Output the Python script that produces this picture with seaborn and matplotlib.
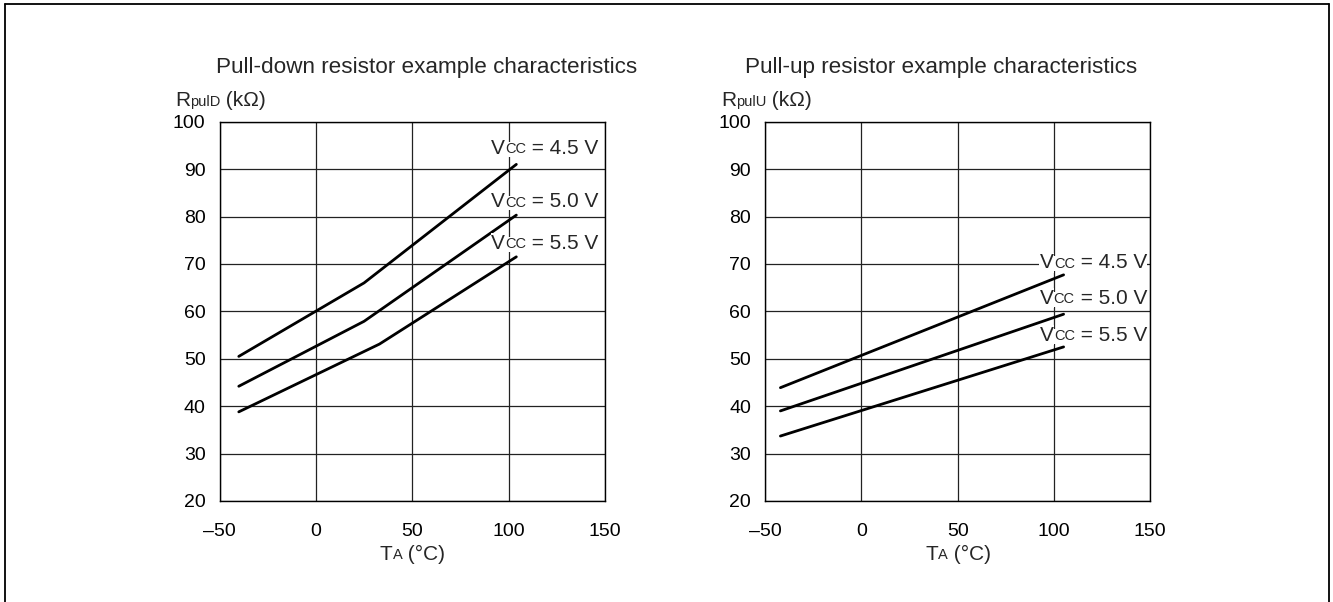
import matplotlib
matplotlib.use("Agg")
import matplotlib.pyplot as plt
import seaborn as sns
import pandas as pd
from matplotlib.lines import Line2D

# ---- data ----
x_ticks = [-50, 0, 50, 100, 150]
y_ticks = [20, 30, 40, 50, 60, 70, 80, 90, 100]

pd_t_45 = [-40, 25, 104]
pd_r_45 = [50.5, 66.0, 91.0]
pd_t_50 = [-40, 25, 104]
pd_r_50 = [44.2, 57.9, 80.3]
pd_t_55 = [-40, 33, 104]
pd_r_55 = [38.8, 53.1, 71.5]

pu_t = [-42, 105]
pu_r_45 = [43.9, 67.7]
pu_r_50 = [39.0, 59.4]
pu_r_55 = [33.7, 52.5]

vcc_labels = ["4.5", "5.0", "5.5"]

sns.set_theme(style="white")
plt.rcParams['font.family'] = ['Liberation Sans', 'DejaVu Sans']

W, H = 1333, 602
fig = plt.figure(figsize=(W / 100, H / 100), dpi=100)

def fx(px):
    return px / W

def fy(py):
    return 1 - py / H

ax1 = fig.add_axes([fx(219.5), fy(501), fx(605) - fx(219.5), fy(121.7) - fy(501)])
ax2 = fig.add_axes([fx(765), fy(501), fx(1150.3) - fx(765), fy(121.7) - fy(501)])

TICK = 14
BIG = 15
SMALL = 10.5
TITLE = 16.2
DESC = 0.212

def frame(ax):
    ax.set_xlim(-50, 150)
    ax.set_ylim(20, 100)
    ax.set_xticks(x_ticks)
    ax.set_xticklabels(["\u201350", "0", "50", "100", "150"])
    ax.set_yticks(y_ticks)
    ax.grid(True, color="#222222", linewidth=0.9)
    ax.tick_params(axis="both", length=0, labelsize=TICK, colors="black")
    ax.tick_params(axis="x", pad=15.5)
    ax.tick_params(axis="y", pad=10)
    for s in ax.spines.values():
        s.set_visible(True)
        s.set_color("black")
        s.set_linewidth(1.0)
    ax.set_xlabel("")
    ax.set_ylabel("")

def add_series(ax, t, r):
    df = pd.DataFrame({"t": t, "r": r})
    sns.lineplot(data=df, x="t", y="r", ax=ax, color="black", linewidth=2.0,
                 sort=False, estimator=None)

for t, r in [(pd_t_45, pd_r_45), (pd_t_50, pd_r_50), (pd_t_55, pd_r_55)]:
    add_series(ax1, t, r)
for r in [pu_r_45, pu_r_50, pu_r_55]:
    add_series(ax2, pu_t, r)

frame(ax1)
frame(ax2)

def chained_right(ax, x, y, parts):
    """parts: list of (text, size); right-aligned at data (x, y), baselines matched."""
    bbox = dict(facecolor="white", edgecolor="none", pad=0.3)
    last_text, last_size = parts[-1]
    t = ax.text(x, y, last_text, fontsize=last_size, ha="right", va="center",
                bbox=bbox, zorder=5)
    prev, prev_size = t, last_size
    for txt, size in reversed(parts[:-1]):
        dy = DESC * (prev_size - size)
        a = ax.annotate(txt, xy=(0, 0), xycoords=prev, xytext=(0, dy),
                        textcoords="offset points", ha="right", va="bottom",
                        fontsize=size, bbox=bbox, zorder=5)
        prev, prev_size = a, size
    return t

def chained_left(x, y, parts):
    first_text, first_size = parts[0]
    t = fig.text(x, y, first_text, fontsize=first_size, ha="left", va="center")
    prev, prev_size = t, first_size
    for txt, size in parts[1:]:
        dy = DESC * (prev_size - size)
        a = ax1.annotate(txt, xy=(1, 0), xycoords=prev, xytext=(0, dy),
                         textcoords="offset points", ha="left", va="bottom",
                         fontsize=size, annotation_clip=False)
        prev, prev_size = a, size
    return t

# Vcc labels
for lab, yv in zip(vcc_labels, [94.4, 83.1, 74.4]):
    chained_right(ax1, 146.5, yv, [("V", BIG), ("CC", SMALL), (f" = {lab} V", BIG)])
for lab, yv in zip(vcc_labels, [70.25, 62.75, 55.0]):
    chained_right(ax2, 148.3, yv, [("V", BIG), ("CC", SMALL), (f" = {lab} V", BIG)])

# titles
fig.text(fx(426.5), fy(68), "Pull-down resistor example characteristics",
         fontsize=TITLE, ha="center", va="center")
fig.text(fx(941), fy(68), "Pull-up resistor example characteristics",
         fontsize=TITLE, ha="center", va="center")

# y-axis labels
chained_left(fx(175), fy(101), [("R", BIG), ("pulD", SMALL), (" (k\u03a9)", BIG)])
chained_left(fx(721), fy(101), [("R", BIG), ("pulU", SMALL), (" (k\u03a9)", BIG)])

# x-axis labels
chained_left(fx(380), fy(554), [("T", BIG), ("A", SMALL), (" (\u00b0C)", BIG)])
chained_left(fx(925), fy(554), [("T", BIG), ("A", SMALL), (" (\u00b0C)", BIG)])

# outer frame
for xs, ys in [([fx(5), fx(5)], [0, fy(3.5)]),
               ([fx(5), fx(1329)], [fy(3.5), fy(3.5)]),
               ([fx(1329), fx(1329)], [fy(3.5), 0])]:
    fig.add_artist(Line2D(xs, ys, color="black", linewidth=1.3, transform=fig.transFigure))

fig.savefig("out.png", dpi=100)
